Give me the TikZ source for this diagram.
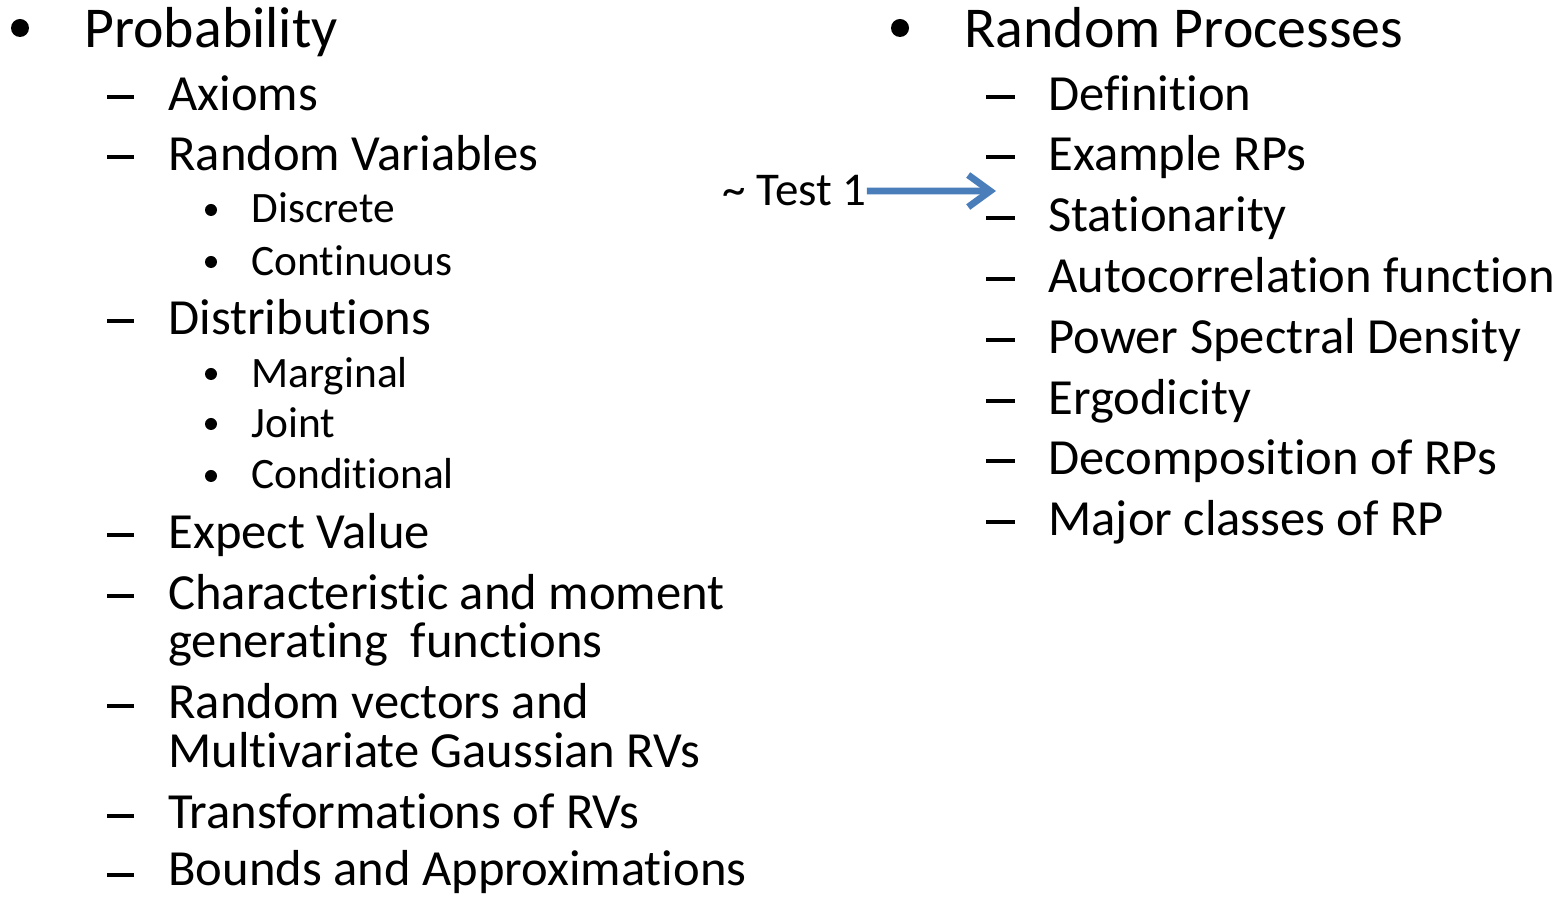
\documentclass[tikz,border=0pt]{standalone}
\usepackage{fontspec}
\setmainfont{Carlito}[Ligatures={NoCommon}]
\usetikzlibrary{arrows.meta,positioning}
\definecolor{arrowblue}{RGB}{74,126,187}

\begin{document}
\begin{tikzpicture}[x=0.5pt,y=-0.5pt,
		head/.style={anchor=base west, inner sep=0pt, font=\fontsize{28.9}{30}\selectfont},
		big/.style={anchor=base west, inner sep=0pt, font=\fontsize{25.3}{26}\selectfont},
		small/.style={anchor=base west, inner sep=0pt, font=\fontsize{21.7}{22}\selectfont},
		dashmark/.style={line width=2pt},
		bigdot/.style={radius=4.5pt},
		smalldot/.style={radius=3pt}]
		\useasboundingbox (0,0) rectangle (1560,897);

		% left column
		\fill (20,28) circle [bigdot];
		\node[head] (prob) at (84,48) {Probability};
		\draw[dashmark] (107,97) -- (134,97);
		\node[big] (axioms) at (168,111) {Axioms};
		\draw[dashmark] (107,157) -- (134,157);
		\node[big] (rv) at (168,171) {Random Variables};
		\fill (211,210) circle [smalldot];
		\node[small] (discrete) at (251,223) {Discrete};
		\fill (211,262) circle [smalldot];
		\node[small] (cont) at (251,276) {Continuous};
		\draw[dashmark] (107,321) -- (134,321);
		\node[big] (dist) at (168,335) {Distributions};
		\fill (211,374) circle [smalldot];
		\node[small] (marg) at (251,388) {Marginal};
		\fill (211,424) circle [smalldot];
		\node[small] (joint) at (251,438) {Joint};
		\fill (211,476) circle [smalldot];
		\node[small] (cond) at (251,489) {Conditional};
		\draw[dashmark] (107,535) -- (134,535);
		\node[big] (expect) at (168,549) {Expect Value};
		\draw[dashmark] (107,596) -- (134,596);
		\node[big] (charf) at (168,610) {Characteristic and moment};
		\node[big] (genf) at (168,658) {generating~ functions};
		\draw[dashmark] (107,706) -- (134,706);
		\node[big] (rvec) at (168,719) {Random vectors and};
		\node[big] (gauss) at (168,768) {Multivariate Gaussian RVs};
		\draw[dashmark] (107,816) -- (134,816);
		\node[big] (trans) at (168,829) {Transformations of RVs};
		\draw[dashmark] (107,875) -- (134,875);
		\node[big] (bounds) at (168,886) {Bounds and Approximations};

		% right column
		\fill (900,28) circle [bigdot];
		\node[head] (rp) at (964,48) {Random Processes};
		\draw[dashmark] (986,97) -- (1015,97);
		\node[big] (defn) at (1048,111) {Definition};
		\draw[dashmark] (986,157) -- (1015,157);
		\node[big] (example) at (1048,171) {Example RPs};
		\draw[dashmark] (986,218) -- (1015,218);
		\node[big] (stat) at (1048,232) {Stationarity};
		\draw[dashmark] (986,279) -- (1015,279);
		\node[big] (acf) at (1048,293) {Autocorrelation function};
		\draw[dashmark] (986,340) -- (1015,340);
		\node[big] (psd) at (1048,354) {Power Spectral Density};
		\draw[dashmark] (986,401) -- (1015,401);
		\node[big] (ergo) at (1048,415) {Ergodicity};
		\draw[dashmark] (986,461) -- (1015,461);
		\node[big] (decomp) at (1048,475) {Decomposition of RPs};
		\draw[dashmark] (986,522) -- (1015,522);
		\node[big] (classes) at (1048,536) {Major classes of RP};

		% test 1 marker
		\node[anchor=base west, inner sep=0pt, font=\fontsize{23.5}{24}\selectfont] (test) at (722,206) {\textasciitilde\ Test 1};
		\coordinate (tip) at (996,191);
		\draw[arrowblue, line width=3.4pt, -{Straight Barb[length=11pt,width=16pt]}] (test.east) -- (tip);
	\end{tikzpicture}
\end{document}
